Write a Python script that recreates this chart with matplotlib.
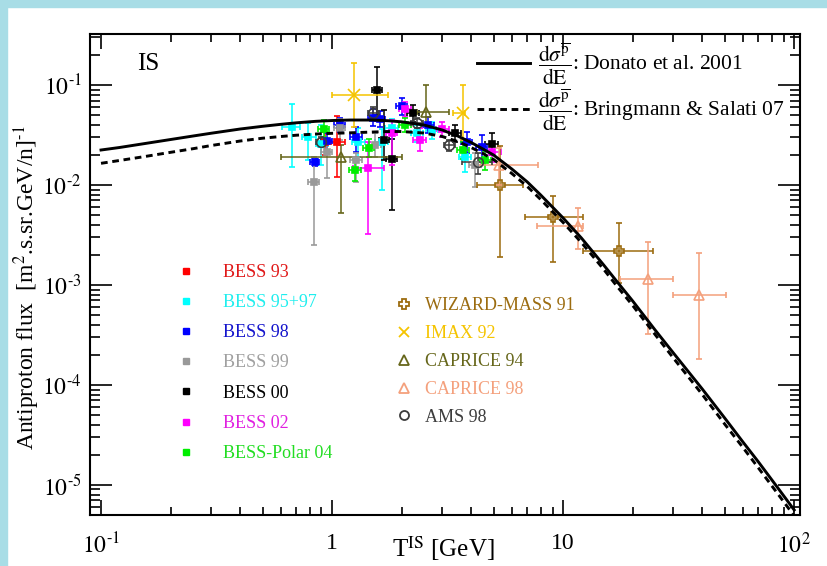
import numpy as np
import matplotlib
matplotlib.use("Agg")
import matplotlib.pyplot as plt
from matplotlib.lines import Line2D
from matplotlib.patches import Rectangle
from matplotlib.ticker import FixedLocator, FixedFormatter, LogLocator, NullFormatter

plt.rcParams['font.family'] = ['Liberation Serif', 'DejaVu Serif']
plt.rcParams['mathtext.fontset'] = 'stix'

# propagated interstellar antiproton flux, two production cross sections
T_model = [0.10, 0.12, 0.15, 0.2, 0.25, 0.3, 0.4, 0.5, 0.6, 0.7, 0.85, 1.0,
           1.2, 1.5, 1.75, 2.0, 2.5, 3.0, 3.5, 4.0, 4.5, 5.0, 6.0, 7.0, 8.0,
           10, 12, 15, 17, 20, 25, 30, 40, 50, 60, 70, 85, 100]
flux_donato = [0.02239, 0.02371, 0.02570, 0.02851, 0.03090, 0.03296, 0.03631,
               0.03864, 0.04046, 0.04188, 0.04335, 0.04416, 0.04467, 0.04467,
               0.04395, 0.04285, 0.03981, 0.03548, 0.03090, 0.02661, 0.02291,
               0.01995, 0.01445, 0.01072, 0.00794, 0.00468, 0.00295, 0.00158,
               0.00110, 6.92e-4, 3.55e-4, 2.09e-4, 9.12e-5, 4.68e-5, 2.69e-5,
               1.70e-5, 9.33e-6, 5.62e-6]
flux_bringmann = [0.01648, 0.01758, 0.01905, 0.02123, 0.02307, 0.02483, 0.02754,
                  0.02938, 0.03055, 0.03148, 0.03236, 0.03289, 0.03327, 0.03388,
                  0.03428, 0.03428, 0.03311, 0.03055, 0.02723, 0.02371, 0.02065,
                  0.01799, 0.01303, 0.00966, 0.00716, 0.00422, 0.00266, 0.00143,
                  9.89e-4, 6.24e-4, 3.20e-4, 1.86e-4, 8.04e-5, 4.07e-5, 2.37e-5,
                  1.48e-5, 8.13e-6, 4.90e-6]

# measurements: kinetic energy, flux, flux band, energy bin
bess93 = dict(T=[0.93, 1.05], F=[0.027, 0.0267],
              lo=[0.020, 0.012], hi=[0.034, 0.049],
              tlo=[0.87, 0.97], thi=[0.99, 1.14])
bess9597 = dict(T=[0.67, 0.79, 0.90, 1.30, 1.64, 1.81, 2.33, 2.70, 3.76],
                F=[0.0378, 0.030, 0.026, 0.027, 0.027, 0.037, 0.033, 0.0355, 0.0192],
                lo=[0.0153, 0.0178, 0.016, 0.019, 0.009, 0.029, 0.027, 0.029, 0.0135],
                hi=[0.064, 0.042, 0.040, 0.037, 0.036, 0.046, 0.040, 0.043, 0.026],
                tlo=[0.61, 0.74, 0.85, 1.22, 1.54, 1.70, 2.19, 2.54, 3.53],
                thi=[0.73, 0.85, 0.96, 1.39, 1.75, 1.93, 2.48, 2.87, 4.00])
bess98 = dict(T=[0.84, 0.95, 1.08, 1.27, 1.51, 1.61, 2.00, 2.61, 3.83, 4.45],
              F=[0.0168, 0.0275, 0.040, 0.030, 0.047, 0.046, 0.061, 0.040, 0.027, 0.024],
              lo=[0.0155, 0.022, 0.034, 0.0215, 0.039, 0.038, 0.050, 0.033, 0.021, 0.018],
              hi=[0.0182, 0.033, 0.047, 0.038, 0.057, 0.055, 0.075, 0.048, 0.034, 0.032],
              tlo=[0.80, 0.90, 1.02, 1.19, 1.43, 1.53, 1.89, 2.47, 3.62, 4.21],
              thi=[0.88, 1.00, 1.14, 1.35, 1.59, 1.69, 2.11, 2.75, 4.04, 4.69])
bess99 = dict(T=[0.836, 0.95, 1.08, 1.27, 1.54, 4.15],
              F=[0.0108, 0.0215, 0.0375, 0.0178, 0.0251, 0.0158],
              lo=[0.0025, 0.0118, 0.028, 0.0107, 0.019, 0.0095],
              hi=[0.0192, 0.028, 0.046, 0.021, 0.033, 0.021],
              tlo=[0.79, 0.90, 1.02, 1.19, 1.45, 3.90],
              thi=[0.88, 1.00, 1.14, 1.35, 1.63, 4.40])
bess00 = dict(T=[1.56, 1.68, 1.81, 2.25, 3.40, 4.90],
              F=[0.089, 0.028, 0.0182, 0.052, 0.033, 0.026],
              lo=[0.050, 0.0178, 0.0056, 0.043, 0.027, 0.020],
              hi=[0.150, 0.056, 0.029, 0.063, 0.040, 0.033],
              tlo=[1.49, 1.60, 1.72, 2.12, 3.20, 4.60],
              thi=[1.64, 1.77, 1.91, 2.39, 3.62, 5.25])
bess02 = dict(T=[1.43, 1.81, 2.07, 2.40, 3.00, 4.90],
              F=[0.0147, 0.033, 0.057, 0.0285, 0.036, 0.0215],
              lo=[0.0032, 0.016, 0.048, 0.022, 0.030, 0.017],
              hi=[0.027, 0.045, 0.068, 0.037, 0.043, 0.027],
              tlo=[1.23, 1.72, 1.94, 2.25, 2.82, 4.50],
              thi=[1.68, 1.91, 2.20, 2.56, 3.20, 5.40])
polar04 = dict(T=[0.92, 1.26, 1.44, 2.07, 3.70, 4.60],
               F=[0.036, 0.0141, 0.0237, 0.040, 0.0224, 0.0178],
               lo=[0.030, 0.011, 0.019, 0.034, 0.018, 0.014],
               hi=[0.045, 0.018, 0.029, 0.047, 0.027, 0.022],
               tlo=[0.87, 1.18, 1.36, 1.95, 3.48, 4.33],
               thi=[0.97, 1.34, 1.52, 2.19, 3.92, 4.87])
wizard91 = dict(T=[5.34, 9.06, 17.5], F=[0.010, 0.0048, 0.0022],
                lo=[0.0019, 0.0017, 0.00105], hi=[0.0243, 0.0077, 0.0042],
                tlo=[4.23, 6.84, 12.2], thi=[6.70, 12.2, 24.6])
imax92 = dict(T=[1.25, 3.67], F=[0.079, 0.053],
              lo=[0.038, 0.028], hi=[0.165, 0.10],
              tlo=[1.00, 3.35], thi=[1.75, 3.76])
caprice94 = dict(T=[1.09, 2.55], F=[0.0192, 0.054],
                 lo=[0.0052, 0.040], hi=[0.025, 0.100],
                 tlo=[0.60, 2.33], thi=[2.00, 3.20])
caprice98 = dict(T=[5.30, 11.6, 23.2, 38.8], F=[0.0158, 0.0039, 0.00116, 0.00079],
                 lo=[0.0100, 0.0023, 0.00032, 0.00018], hi=[0.0234, 0.0059, 0.0027, 0.0021],
                 tlo=[4.07, 7.70, 17.6, 29.8], thi=[7.80, 12.2, 29.8, 50.5])
ams98 = dict(T=[0.90, 1.51, 2.33, 3.22, 4.27], F=[0.027, 0.053, 0.042, 0.025, 0.017],
             lo=[0.024, 0.047, 0.037, 0.022, 0.013], hi=[0.030, 0.060, 0.047, 0.028, 0.021],
             tlo=[0.85, 1.43, 2.20, 3.05, 3.64], thi=[0.95, 1.60, 2.47, 3.40, 4.90])

bess_sets = [
    (bess93, 'BESS 93', '#ff0000', '#e01818'),
    (bess9597, 'BESS 95+97', '#00ffff', '#20eeee'),
    (bess98, 'BESS 98', '#0000ff', '#1414cc'),
    (bess99, 'BESS 99', '#999999', '#a0a0a0'),
    (bess00, 'BESS 00', '#000000', '#000000'),
    (bess02, 'BESS 02', '#ff00ff', '#e020e0'),
    (polar04, 'BESS-Polar 04', '#00ee00', '#22dd22'),
]
other_sets = [
    (wizard91, 'WIZARD-MASS 91', '#9c6c10', 'P'),
    (imax92, 'IMAX 92', '#f5c400', 'x'),
    (caprice94, 'CAPRICE 94', '#66661a', '^'),
    (caprice98, 'CAPRICE 98', '#f4a07c', '^'),
    (ams98, 'AMS 98', '#3c3c3c', 'o'),
]

xticks = [0.1, 1, 10, 100]
xticklabels = [r'$10^{\text{-}1}$', '1', '10', '$10^{2}$']
yticks = [1e-5, 1e-4, 1e-3, 1e-2, 1e-1]
yticklabels = [r'$10^{\text{-}5}$', r'$10^{\text{-}4}$', r'$10^{\text{-}3}$',
               r'$10^{\text{-}2}$', r'$10^{\text{-}1}$']

LW = 2.1
DASH = (2.3, 1.6)


def draw_set(ax, d, color, marker, ms, mfc):
    T = np.array(d['T'])
    F = np.array(d['F'])
    yerr = [F - np.array(d['lo']), np.array(d['hi']) - F]
    xerr = [T - np.array(d['tlo']), np.array(d['thi']) - T]
    ax.errorbar(T, F, xerr=xerr, yerr=yerr, fmt=marker, color=color, ms=ms,
                mfc=mfc, mec=color, mew=1.2, elinewidth=1.1, capsize=2.2,
                capthick=1.1, zorder=3)


fig = plt.figure(figsize=(8.27, 5.66), dpi=100)
# light blue strip along the top and left edge
fig.patches.append(Rectangle((0, 0), 7 / 827, 1, transform=fig.transFigure,
                             color='#a8dde6', zorder=0))
fig.patches.append(Rectangle((0, 1 - 7 / 566), 1, 7 / 566, transform=fig.transFigure,
                             color='#a8dde6', zorder=0))

ax = fig.add_axes([90 / 827, 51 / 566, 710 / 827, 481 / 566])
ax.set_xscale('log')
ax.set_yscale('log')

for d, name, col, tcol in bess_sets:
    draw_set(ax, d, col, 's', 4, col)
for d, name, col, mk in other_sets:
    draw_set(ax, d, col, mk, 7 if mk != 'x' else 8, 'none')

ax.plot(T_model, flux_donato, '-', color='black', lw=LW, zorder=4)
ax.plot(T_model, flux_bringmann, '--', color='black', lw=LW, dashes=DASH, zorder=4)

ax.set_xlim(0.0896, 106)
ax.set_ylim(5.0e-6, 0.324)

ax.xaxis.set_major_locator(FixedLocator(xticks))
ax.xaxis.set_major_formatter(FixedFormatter(xticklabels))
ax.yaxis.set_major_locator(FixedLocator(yticks))
ax.yaxis.set_major_formatter(FixedFormatter(yticklabels))
for a in (ax.xaxis, ax.yaxis):
    a.set_minor_locator(LogLocator(base=10, subs=np.arange(2, 10), numticks=20))
    a.set_minor_formatter(NullFormatter())
ax.tick_params(which='both', direction='in', top=True, right=True, width=1.2,
               labelsize=17, colors='black')
ax.tick_params(axis='x', which='major', length=11, pad=13)
ax.tick_params(axis='x', which='minor', length=5.5)
ax.tick_params(axis='y', which='major', length=15.5, pad=6)
ax.tick_params(axis='y', which='minor', length=7.5)
for s in ax.spines.values():
    s.set_linewidth(1.5)

ax.text(0.066, 0.937, 'IS', transform=ax.transAxes, fontsize=18,
        ha='left', va='center')

fig.text(443 / 827, 1 - 549 / 566, r'T$^{\mathrm{IS}}$ [GeV]', fontsize=18,
         ha='center', va='center')
fig.text(27 / 827, 1 - 288 / 566,
         r'Antiproton flux  [m$^{2}$.s.sr.GeV/n]$^{\text{-}1}$', fontsize=17,
         rotation=90, ha='center', va='center')

# model legend
h_model = [Line2D([], [], color='black', lw=LW),
           Line2D([], [], color='black', lw=LW, ls='--', dashes=DASH)]
frac = r'$\dfrac{\mathrm{d}\sigma^{\overline{\mathrm{p}}}}{\mathrm{dE}}$'
leg1 = ax.legend(h_model, [frac + ': Donato et al. 2001',
                           frac + ': Bringmann & Salati 07'],
                 loc='upper left', bbox_to_anchor=(0.545, 0.985), frameon=False,
                 fontsize=15.5, handlelength=2.45, handletextpad=0.4,
                 borderpad=0, borderaxespad=0, labelspacing=0.05)
ax.add_artist(leg1)

# BESS legend
h_bess = [Line2D([], [], ls='none', marker='s', ms=4.5, color=c)
          for _, _, c, _ in bess_sets]
leg2 = ax.legend(h_bess, [n for _, n, _, _ in bess_sets], loc='upper left',
                 bbox_to_anchor=(0.122, 0.522), frameon=False, fontsize=13,
                 handlelength=1.0, handletextpad=1.55, borderpad=0,
                 borderaxespad=0, labelspacing=0.73,
                 labelcolor=[t for _, _, _, t in bess_sets])
ax.add_artist(leg2)

# other experiments legend
h_other = [Line2D([], [], ls='none', marker=m, ms=6.5 if m != 'x' else 7,
                  mfc='none', mec=c, mew=1.3, color=c)
           for _, _, c, m in other_sets]
ax.legend(h_other, [n for _, n, _, _ in other_sets], loc='upper left',
          bbox_to_anchor=(0.429, 0.4525), frameon=False, fontsize=13,
          handlelength=1.0, handletextpad=0.7, borderpad=0, borderaxespad=0,
          labelspacing=0.60, labelcolor=[c for _, _, c, _ in other_sets])

fig.savefig('out.png', dpi=100)
